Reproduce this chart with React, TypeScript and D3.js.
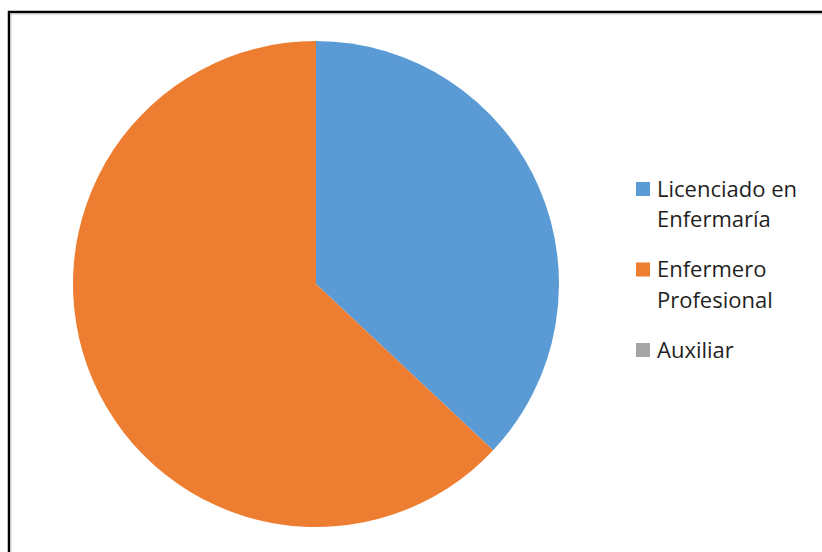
import { useRef, useEffect } from "react";
import * as d3 from "d3";

// legend categories, split into display lines
const categories = ["Licenciado en Enfermaría", "Enfermero Profesional", "Auxiliar"];
const labelLines = [["Licenciado en", "Enfermaría"], ["Enfermero", "Profesional"], ["Auxiliar"]];
const shares = [37, 63, 0];
const colors = ["#5B9BD5", "#ED7D31", "#A5A5A5"];

const W = 822;
const H = 552;

export default function App() {
  const ref = useRef<SVGSVGElement>(null);

  useEffect(() => {
    const svg = d3.select(ref.current);
    svg.selectAll("*").remove();

    // frame (left + top edges with soft shadow)
    svg.append("path").attr("d", `M9,${H} V12 H${W}`).attr("fill", "none")
      .attr("stroke", "#000").attr("stroke-width", 2.5);
    svg.append("path").attr("d", `M10.8,${H} V13.8 H${W}`).attr("fill", "none")
      .attr("stroke", "#c4c4c4").attr("stroke-width", 1.2);

    const data = categories.map((c, i) => ({ name: c, value: shares[i] }));
    const pie = d3.pie<any>().value((d) => d.value).sort(null);
    const arc = d3.arc<any>().innerRadius(0).outerRadius(243);

    const g = svg.append("g").attr("transform", "translate(316,284)");
    g.selectAll("path")
      .data(pie(data).filter((d) => d.value > 0))
      .enter()
      .append("path")
      .attr("d", arc)
      .attr("fill", (d) => colors[categories.indexOf(d.data.name)]);

    // legend
    const lg = svg.append("g").attr("transform", "translate(636,182)");
    const item = lg.selectAll("g").data(categories).enter().append("g")
      .attr("transform", (_, i) => `translate(0,${i * 80.5})`);
    item.append("rect").attr("width", 14).attr("height", 14)
      .attr("fill", (_, i) => colors[i]);
    item.each(function (_, i) {
      const t = d3.select(this).append("text")
        .attr("x", 21).attr("y", 14.5)
        .attr("font-family", "'Open Sans', sans-serif")
        .attr("font-size", 22)
        .attr("fill", "#1f1f1f");
      labelLines[i].forEach((line, k) => {
        t.append("tspan").attr("x", 21).attr("dy", k === 0 ? 0 : 30.5).text(line);
      });
    });
  }, []);

  return (
    <svg ref={ref} width={W} height={H}
      style={{ position: "absolute", left: 0, top: 0, background: "#fff" }} />
  );
}
